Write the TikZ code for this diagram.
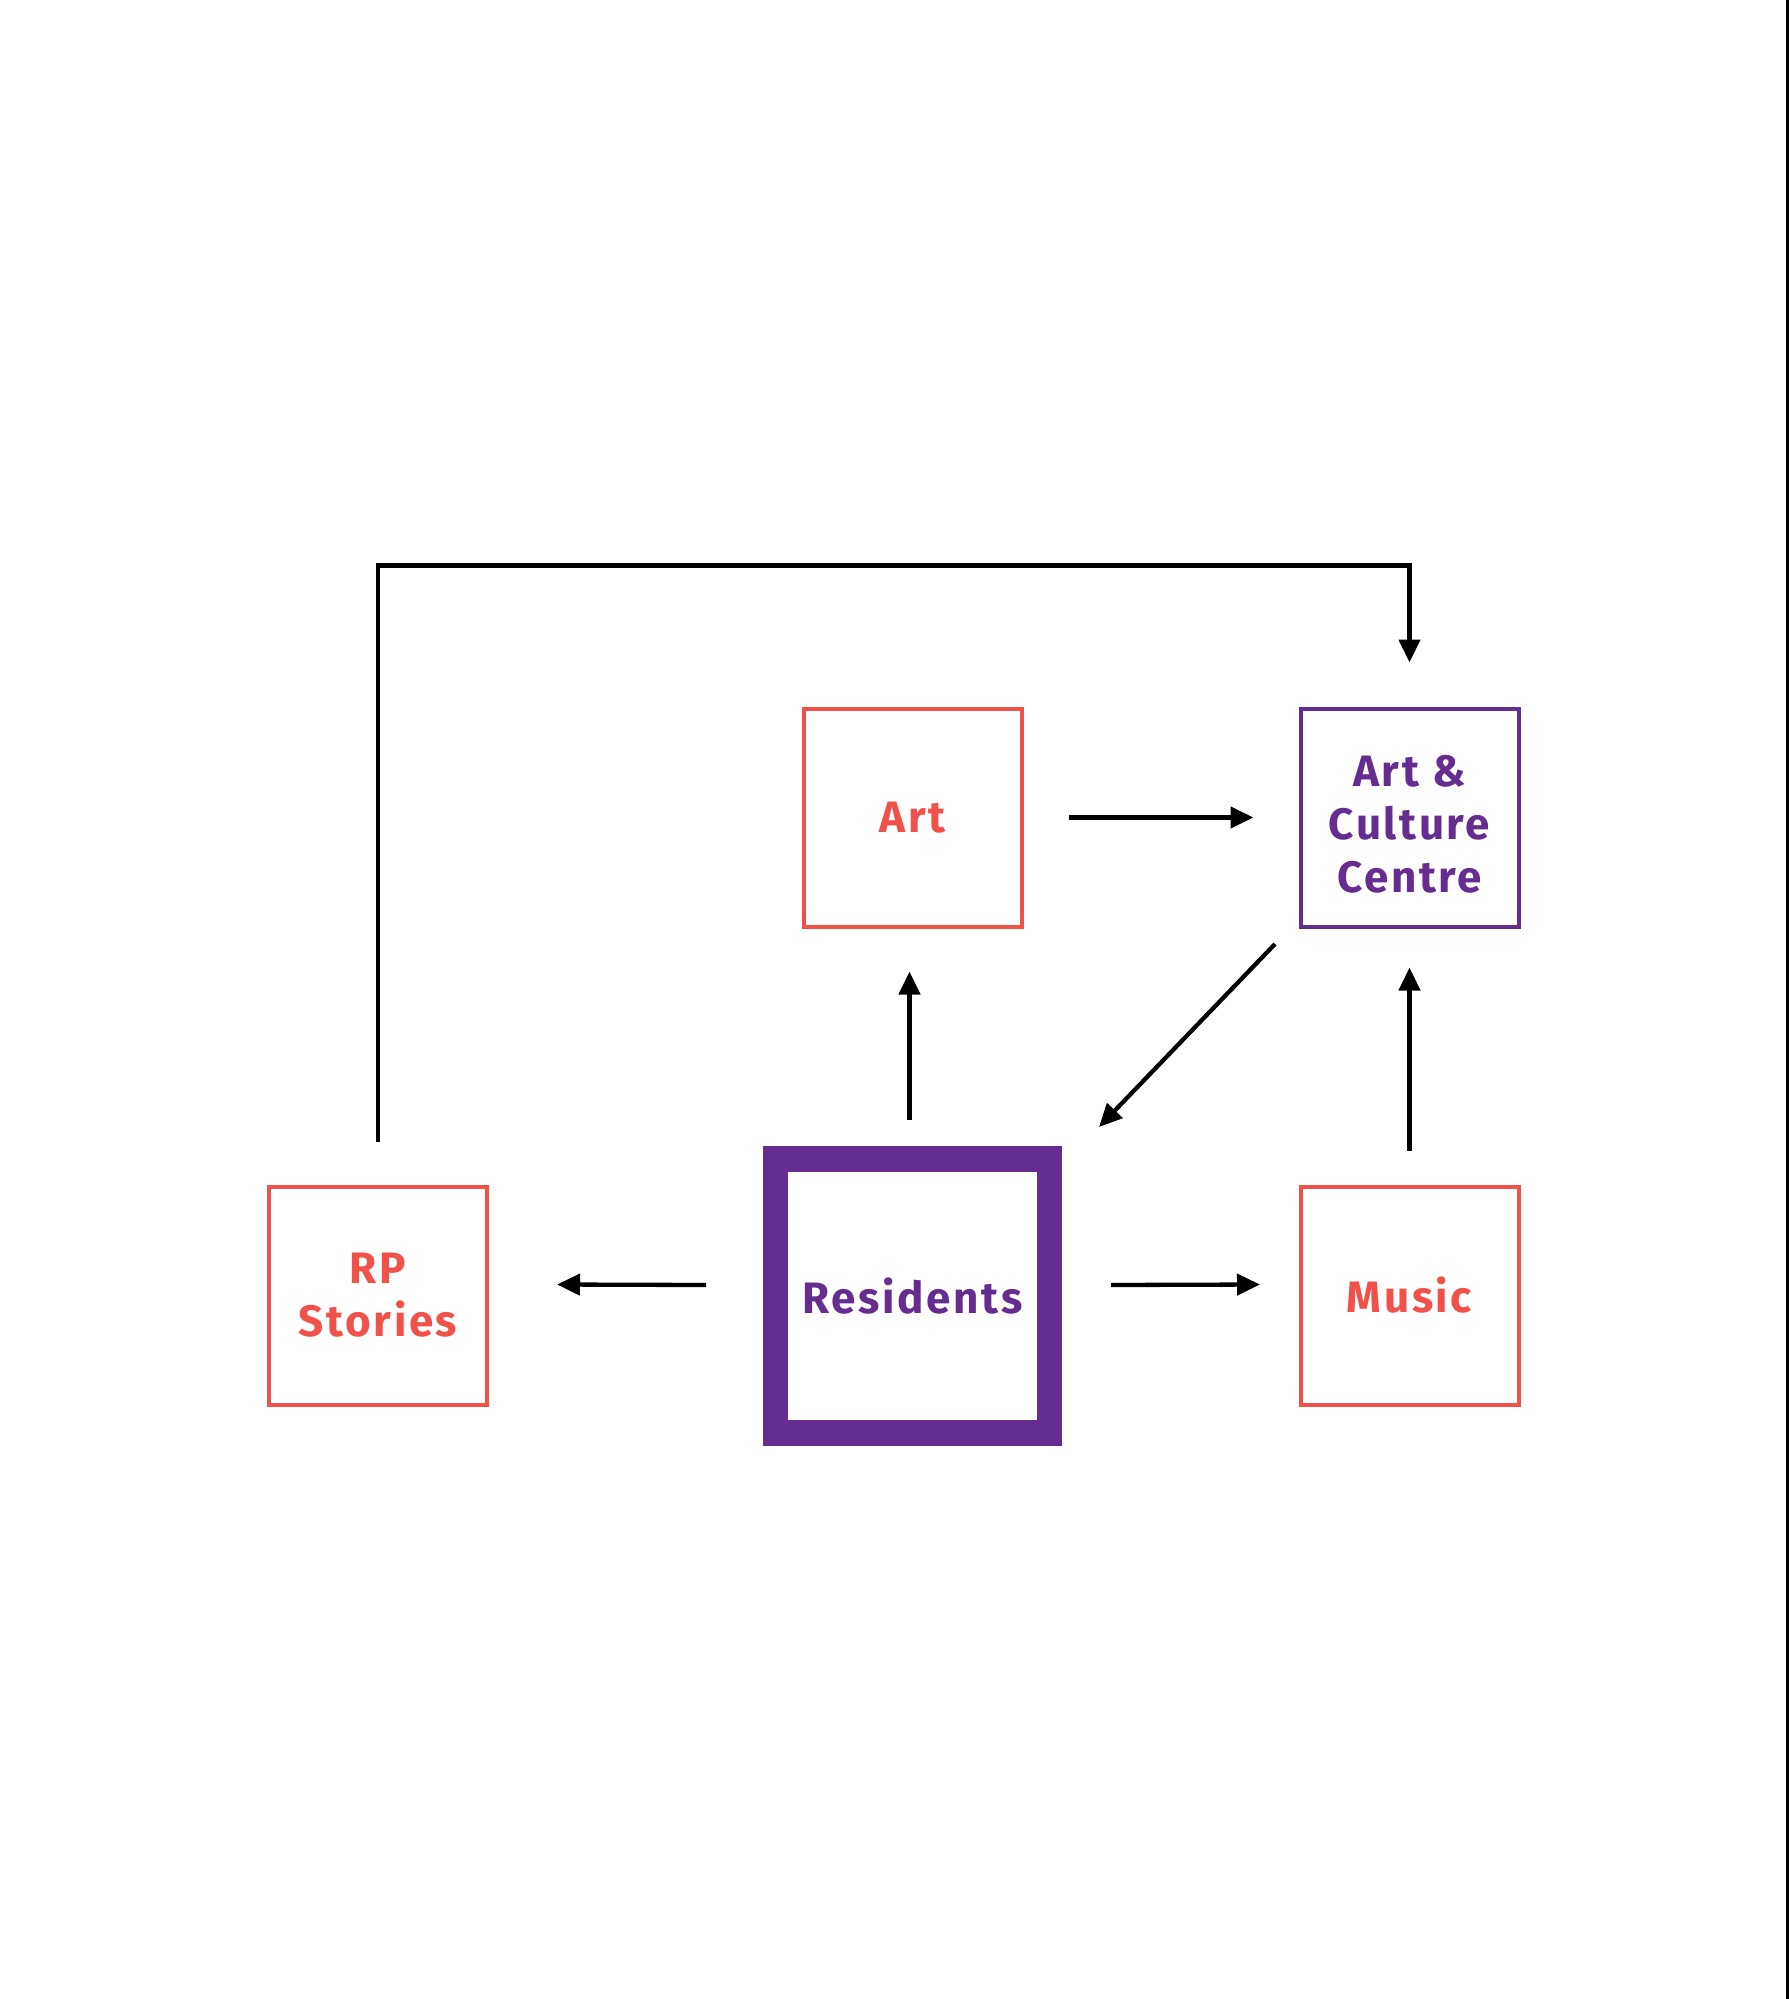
\documentclass[tikz,border=0pt]{standalone}
\usepackage{fontspec}
\setmainfont{Fira Sans}[LetterSpace=6]
\usetikzlibrary{arrows.meta,calc}
\definecolor{coral}{HTML}{F0524A}
\definecolor{grape}{HTML}{662D91}
\begin{document}
\begin{tikzpicture}[x=1pt,y=-1pt,
  boxfont/.style={align=center,font=\fontsize{44}{53}\selectfont\bfseries},
  box/.style={draw,line width=4pt,minimum width=218pt,minimum height=218pt,inner sep=0pt,outer sep=0pt,boxfont},
  redbox/.style={box,draw=coral,text=coral},
  purplebox/.style={box,draw=grape,text=grape},
  conn/.style={line width=4.3pt,-{Triangle[length=23pt,width=21pt]}}]
\useasboundingbox (0,0) rectangle (1789,1999);
\fill[white] (0,0) rectangle (1789,1999);
\draw[line width=2.5pt] (1787.5,0) -- (1787.5,1999);
\node[redbox] (art) at (912.5,817.5) {Art};
\node[purplebox,label={[boxfont,text=grape,yshift=-7pt]center:Art \&\\Culture\\Centre}] (acc) at (1409.5,817.5) {};
\node[redbox] (rp) at (378,1295.5) {RP\\Stories};
\node[redbox] (music) at (1409.5,1295.5) {Music};
\node[box,draw=grape,text=grape,line width=25.7pt,minimum width=274pt,minimum height=274pt] (res) at (912.5,1296) {Residents};
% connectors
\draw[conn] ($(art.east)+(47,0)$) -- ($(acc.west)+(-47,0)$);
\draw[conn] ($(res.north)+(-3,-39)$) -- ($(art.south)+(-3,45)$);
\draw[conn] ($(acc.south west)+(-25.5,17.5)$) -- ($(res.north east)+(49.5,-32)$);
\draw[conn] ($(music.north)+(0,-36)$) -- ($(acc.south)+(0,41)$);
\draw[conn] ($(res.west)+(-69.5,-11)$) -- ($(rp.east)+(70,-11)$);
\draw[conn] ($(res.east)+(61.5,-11)$) -- ($(music.west)+(-40.5,-11)$);
\coordinate (c1) at ($(rp.north)+(0,-621)$);
\draw[conn] ($(rp.north)+(0,-45)$) -- (c1) -| ($(acc.north)+(0,-46)$);
\end{tikzpicture}
\end{document}
